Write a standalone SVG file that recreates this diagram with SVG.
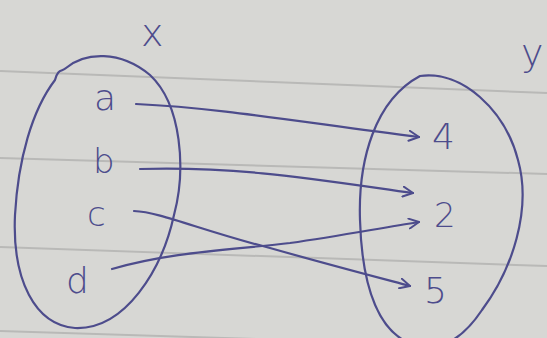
<svg xmlns="http://www.w3.org/2000/svg" width="547" height="338" viewBox="0 0 547 338">
<defs>
<style>
.ink{fill:none;stroke:#4d4c8c;stroke-width:2.2;stroke-linecap:round;stroke-linejoin:round}
.rule{fill:none;stroke:#b9b9b7;stroke-width:2}
.lbl{font-family:"DejaVu Sans","Liberation Sans",sans-serif;font-weight:200;fill:#4d4c8c}
</style>
<marker id="ah" viewBox="0 0 12 12" refX="11" refY="6" markerWidth="12" markerHeight="12" markerUnits="userSpaceOnUse" orient="auto">
<path d="M1,1 L11,6 L1,11" fill="none" stroke="#4d4c8c" stroke-width="2" stroke-linecap="round" stroke-linejoin="round"/>
</marker>
</defs>
<rect width="547" height="338" fill="#d7d7d4"/>
<path class="rule" d="M0,71 L547,93"/>
<path class="rule" d="M0,158 L547,174"/>
<path class="rule" d="M0,247 L547,266"/>
<path class="rule" d="M0,331 L547,348"/>
<g id="setX">
<path class="ink" d="M55,80 C58,68 62,72 66,68 C85,52 120,50 150,75 C182,105 186,170 174,215 C162,270 125,330 75,328 C35,325 12,280 15,215 C18,160 32,110 55,80 Z"/>
</g>
<g id="setY">
<path class="ink" d="M420,76 C462,70 505,110 518,160 C532,210 512,270 482,310 C462,340 440,352 415,345 C380,335 362,290 360,220 C358,160 375,100 420,76 Z"/>
</g>
<g id="labelX"><text class="lbl" x="141" y="46" font-size="38">x</text></g>
<g id="labelY"><text class="lbl" x="521" y="66" font-size="38">y</text></g>
<g id="a"><text class="lbl" x="94" y="110" font-size="36">a</text></g>
<g id="b"><text class="lbl" x="93" y="173" font-size="34">b</text></g>
<g id="c"><text class="lbl" x="87" y="226" font-size="34">c</text></g>
<g id="d"><text class="lbl" x="66" y="293" font-size="36">d</text></g>
<g id="n4"><text class="lbl" x="432" y="149" font-size="36">4</text></g>
<g id="n2"><text class="lbl" x="434" y="227" font-size="34">2</text></g>
<g id="n5"><text class="lbl" x="424" y="303" font-size="36">5</text></g>
<g id="connectors">
<path class="ink" marker-end="url(#ah)" d="M136,104 C220,108 300,122 419,137"/>
<path class="ink" marker-end="url(#ah)" d="M140,169 C240,166 320,180 413,193"/>
<path class="ink" marker-end="url(#ah)" d="M134,211 C160,212 200,230 270,248 C330,265 380,278 410,286"/>
<path class="ink" marker-end="url(#ah)" d="M112,269 C170,252 230,250 290,243 C340,236 380,228 419,222"/>
</g>
</svg>
